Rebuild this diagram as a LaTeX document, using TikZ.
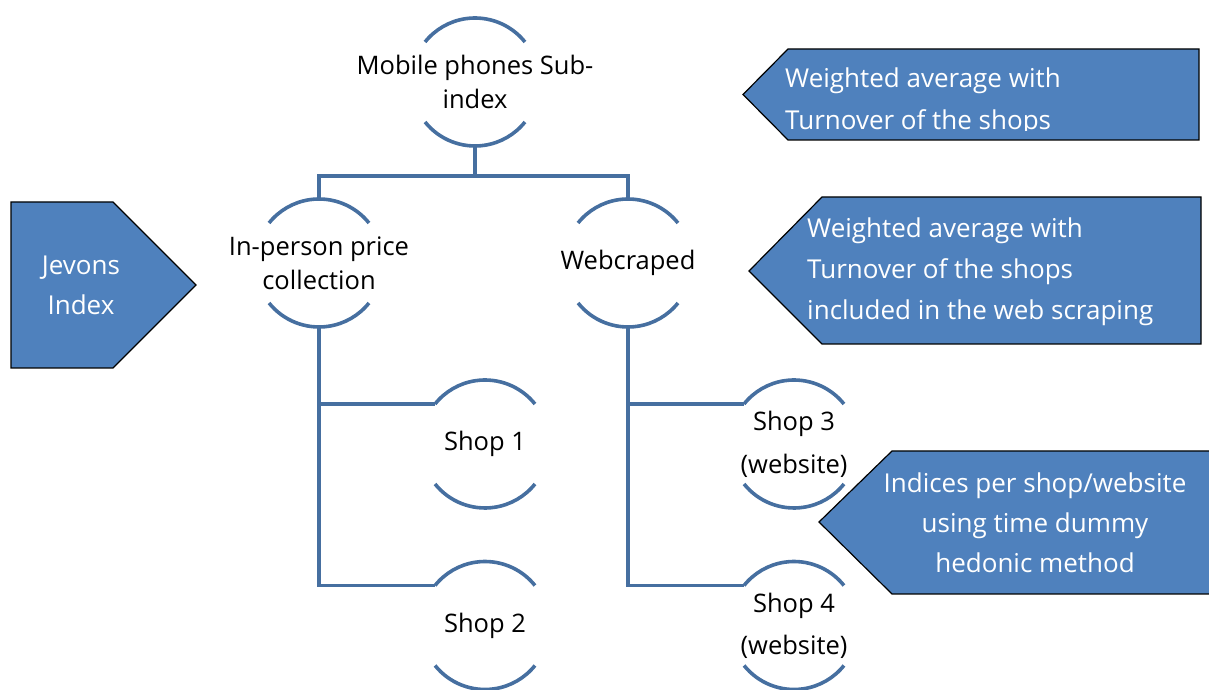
\documentclass[tikz,border=0pt]{standalone}
\usepackage{fontspec}
\setmainfont{Open Sans}
\usetikzlibrary{calc}
\definecolor{linkblue}{RGB}{70,111,160}
\definecolor{boxblue}{RGB}{79,129,189}
\tikzset{
  arcline/.style={linkblue,line width=3.6pt},
  link/.style={linkblue,line width=3.6pt},
  arcnode/.style={align=center,inner sep=0pt,font=\fontsize{25.5}{34}\selectfont},
  callout/.style={fill=boxblue,draw=black,line width=1.2pt},
  callouttext/.style={text=white,inner sep=0pt,font=\fontsize{26}{41}\selectfont}
}
\begin{document}
\begin{tikzpicture}[x=1pt,y=1pt]
  \useasboundingbox(0,0)rectangle(1209,690);
  % tree of indices
  \node[arcnode](mob)at(475,608){Mobile phones Sub-\\index};
  \node[arcnode](inp)at(319,427){In-person price\\collection};
  \node[arcnode](web)at(628,427){Webcraped};
  \node[arcnode](s1)at(485,246){Shop 1};
  \node[arcnode](s2)at(485,64.5){Shop 2};
  \node[arcnode](s3)at(794,246){Shop 3\\[9pt](website)};
  \node[arcnode](s4)at(794,64.5){Shop 4\\[8pt](website)};
  \foreach \n in {mob,inp,web,s1,s2,s3,s4}{
    \draw[arcline]($(\n.center)+(38.7:64)$)arc[start angle=38.7,end angle=141.3,radius=64]coordinate(\n-w);
    \draw[arcline]($(\n.center)+(218.7:64)$)arc[start angle=218.7,end angle=321.3,radius=64];
    \coordinate(\n-n)at($(\n.center)+(0,64)$);
    \coordinate(\n-s)at($(\n.center)+(0,-64)$);
  }
  \draw[link](mob-s)--++(0,-30)coordinate(fork)-|(inp-n);
  \draw[link](fork)-|(web-n);
  \draw[link](inp-s)|-(s1-w);
  \draw[link](inp-s)|-(s2-w);
  \draw[link](web-s)|-(s3-w);
  \draw[link](web-s)|-(s4-w);
  % callouts
  \filldraw[callout](11,488)--(113,488)--(196,405)--(113,322)--(11,322)--cycle;
  \node[callouttext,align=center,font=\fontsize{26}{40}\selectfont](jev)at(81,405){Jevons\\Index};
  \filldraw[callout](743,595.5)--(788,641)--(1199,641)--(1199,550)--(788,550)--cycle;
  \begin{scope}
    \clip(743,559)rectangle(1199,641);
    \node[callouttext,anchor=west,align=left,font=\fontsize{26}{42}\selectfont](shops)at(785,588){Weighted average with\\Turnover of the shops};
  \end{scope}
  \filldraw[callout](749,419)--(822,493)--(1201,493)--(1201,346)--(822,346)--cycle;
  \node[callouttext,anchor=west,align=left](webshops)at(807,418){Weighted average with\\Turnover of the shops\\included in the web scraping};
  \filldraw[callout](819,168)--(892,239)--(1215,239)--(1215,96)--(892,96)--cycle;
  \node[callouttext,align=center,font=\fontsize{26}{40}\selectfont](hedonic)at(1035,167){Indices per shop/website\\using time dummy\\hedonic method};
\end{tikzpicture}
\end{document}
